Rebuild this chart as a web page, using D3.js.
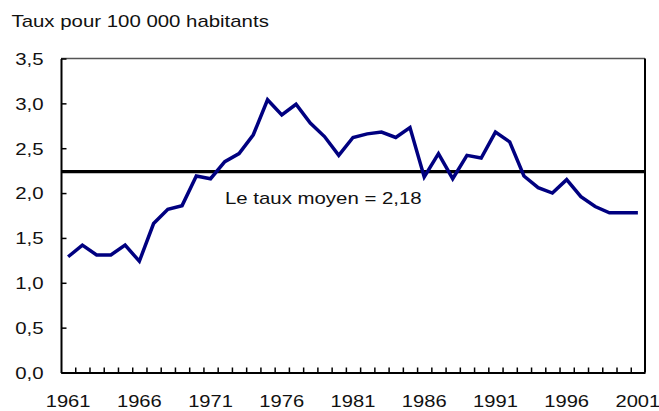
<!DOCTYPE html>
<html><head><meta charset="utf-8">
<script src="https://cdn.jsdelivr.net/npm/d3@7"></script>
<style>
html,body{margin:0;padding:0;background:#fff;}
svg{display:block;font-family:"Liberation Sans",Arial,sans-serif;}
</style></head>
<body><svg id="chart" width="659" height="411"></svg>
<script>
const years = d3.range(1961, 2002);
const rates = [1.29,1.42,1.31,1.31,1.42,1.24,1.66,1.82,1.86,2.19,
  2.16,2.35,2.44,2.65,3.04,2.87,2.99,2.78,2.63,2.42,
  2.62,2.66,2.68,2.62,2.73,2.18,2.44,2.16,2.42,2.39,
  2.68,2.57,2.19,2.06,2.00,2.15,1.96,1.85,1.78,1.78,1.78];
const meanLineValue = 2.24;
const meanLabel = "Le taux moyen = 2,18";
const yTicks = [0,0.5,1,1.5,2,2.5,3,3.5];
const xLabelYears = [1961,1966,1971,1976,1981,1986,1991,1996,2001];
const titleText = "Taux pour 100 000 habitants";

const L = 61, R = 645, T = 58.5, B = 372.5;
const SX = 1.26, FS = 16.2;
const svg = d3.select("#chart");

const x = d3.scaleBand().domain(years).range([L, R]).paddingInner(0).paddingOuter(0);
const xb = d3.scaleLinear().domain([1960.5, 2001.5]).range([L, R]);
const y = d3.scaleLinear().domain([0, 3.5]).range([B, T]);
const fmt = v => d3.format(".1f")(v).replace(".", ",");

// frame (top and right)
svg.append("line").attr("x1", L).attr("x2", R).attr("y1", T).attr("y2", T)
  .attr("stroke", "#555").attr("stroke-width", 1.5);
svg.append("line").attr("x1", R).attr("x2", R).attr("y1", T).attr("y2", B)
  .attr("stroke", "#000").attr("stroke-width", 2);

// y axis
const ya = svg.append("g").attr("transform", `translate(${L},0)`)
  .call(d3.axisLeft(y).tickValues(yTicks).tickFormat(fmt).tickSizeInner(-5.5).tickSizeOuter(0));
ya.select(".domain").attr("stroke", "#000").attr("stroke-width", 2);
ya.selectAll(".tick line").attr("stroke", "#000").attr("stroke-width", 1.5);
ya.selectAll(".tick text").attr("x", null).attr("dy", "0.36em")
  .attr("transform", `translate(-17.5,0) scale(${SX},1)`)
  .attr("font-size", FS).attr("font-family", "Liberation Sans, Arial, sans-serif").attr("fill", "#111");

// x axis ticks at category boundaries
const xt = svg.append("g").attr("transform", `translate(0,${B})`)
  .call(d3.axisBottom(xb).tickValues(d3.range(1961.5, 2001, 1)).tickFormat("").tickSizeInner(-5).tickSizeOuter(0));
xt.select(".domain").attr("stroke", "#000").attr("stroke-width", 2);
xt.selectAll(".tick line").attr("stroke", "#000").attr("stroke-width", 1.5);

// x axis labels at category centres
const xl = svg.append("g").attr("transform", `translate(0,${B})`)
  .call(d3.axisBottom(x).tickValues(xLabelYears).tickSize(0));
xl.select(".domain").remove();
xl.selectAll(".tick text").attr("y", null).attr("dy", null)
  .attr("transform", `translate(0,34.5) scale(${SX},1)`)
  .attr("font-size", 16).attr("font-family", "Liberation Sans, Arial, sans-serif").attr("fill", "#111");

// mean line
svg.append("line").attr("x1", L).attr("x2", R)
  .attr("y1", y(meanLineValue)).attr("y2", y(meanLineValue))
  .attr("stroke", "#000").attr("stroke-width", 3.3);

// series
const line = d3.line().x((d, i) => x(years[i]) + x.bandwidth() / 2).y(d => y(d));
svg.append("path").datum(rates).attr("d", line)
  .attr("fill", "none").attr("stroke", "#000080").attr("stroke-width", 3.5)
  .attr("stroke-linejoin", "miter").attr("stroke-linecap", "butt");

// texts
svg.append("text").text(titleText)
  .attr("transform", `translate(11.5,27) scale(${SX},1)`)
  .attr("font-size", FS).attr("fill", "#111");
svg.append("text").text(meanLabel)
  .attr("transform", `translate(225,203.5) scale(${SX},1)`)
  .attr("font-size", FS).attr("fill", "#111");
</script></body></html>
